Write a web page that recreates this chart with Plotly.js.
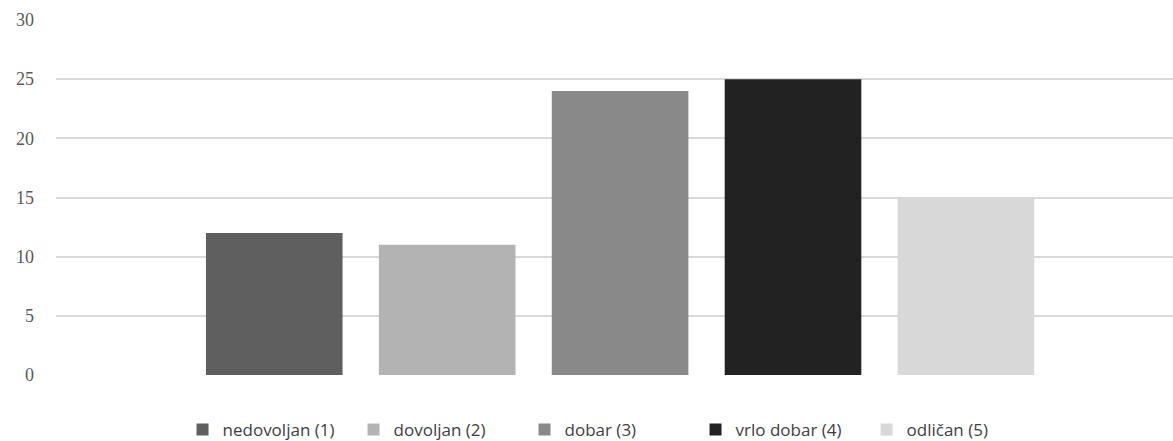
<!DOCTYPE html>
<html>
<head>
<meta charset="utf-8">
<script src="https://cdn.plot.ly/plotly-3.0.1.min.js"></script>
<style>html,body{margin:0;padding:0;background:#fff;}#chart{width:1173px;height:441px;}</style>
</head>
<body>
<div id="chart"></div>
<script>
var seriesNames = ["nedovoljan (1)", "dovoljan (2)", "dobar (3)", "vrlo dobar (4)", "odličan (5)"];
var seriesValues = [12, 11, 24, 25, 15];
var seriesColors = ["#5f5f5f", "#b3b3b3", "#898989", "#222222", "#d8d8d8"];
var category = [""];
var yTicks = [0, 5, 10, 15, 20, 25, 30];

var traces = seriesNames.map(function(name, i) {
  return {
    type: "bar",
    name: name,
    x: category,
    y: [seriesValues[i]],
    marker: {color: seriesColors[i], line: {width: 0}},
    hoverinfo: "name+y"
  };
});

var layout = {
  width: 1173,
  height: 441,
  margin: {l: 56, r: 0, t: 20, b: 66},
  paper_bgcolor: "#ffffff",
  plot_bgcolor: "#ffffff",
  barmode: "group",
  bargap: 0.226,
  bargroupgap: 0.21,
  showlegend: true,
  legend: {
    orientation: "h",
    xref: "paper",
    x: 0.496, xanchor: "center",
    yref: "container",
    y: 0.025, yanchor: "middle",
    font: {family: "Open Sans, Liberation Sans, sans-serif", size: 17, color: "#404040"},
    itemwidth: 30,
    entrywidth: 126,
    entrywidthmode: "pixels",
    traceorder: "normal"
  },
  xaxis: {
    type: "category",
    range: [-0.505, 0.495],
    showticklabels: false,
    showgrid: false,
    zeroline: false,
    showline: false,
    fixedrange: true
  },
  yaxis: {
    range: [0, 30],
    tickvals: yTicks,
    ticktext: yTicks.map(String),
    showgrid: true,
    gridcolor: "#d9d9d9",
    gridwidth: 2,
    zeroline: false,
    showline: false,
    ticks: "",
    ticklabelstandoff: 21,
    tickfont: {family: "Liberation Serif, serif", size: 18, color: "#595959"},
    fixedrange: true
  }
};

Plotly.newPlot("chart", traces, layout, {displayModeBar: false, staticPlot: true});
</script>
</body>
</html>
